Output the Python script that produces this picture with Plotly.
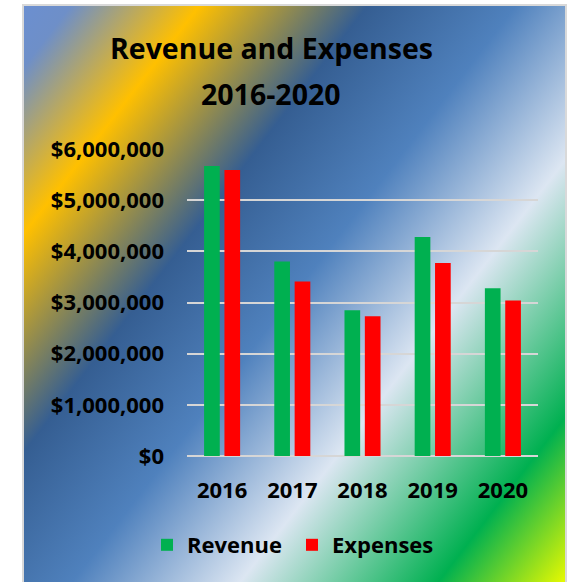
import base64
import plotly.graph_objects as go

# Chart data
years = ["2016", "2017", "2018", "2019", "2020"]
revenue = [5670000, 3800000, 2850000, 4280000, 3280000]
expenses = [5590000, 3410000, 2730000, 3770000, 3040000]
y_ticks = [0, 1000000, 2000000, 3000000, 4000000, 5000000, 6000000]

W, H = 570, 582
L, R, T, B = 187, 32, 149, 126
PW, PH = W - L - R, H - T - B

FONT = "Open Sans"

# Diagonal multi-colour fill behind the whole chart, with a light grey frame
stops = [
    (0.00, "#6B8FD1"),
    (0.05, "#6E8FC8"),
    (0.18, "#FFC000"),
    (0.35, "#355E92"),
    (0.50, "#4F81BD"),
    (0.67, "#DCE6F2"),
    (0.87, "#00B050"),
    (1.00, "#EAFA00"),
]
stop_xml = "".join(
    f'<stop offset="{o}" stop-color="{c}"/>' for o, c in stops
)
svg = (
    f'<svg xmlns="http://www.w3.org/2000/svg" width="{W}" height="{H}" '
    f'viewBox="0 0 {W} {H}" preserveAspectRatio="none">'
    f'<defs><linearGradient id="g" gradientUnits="userSpaceOnUse" '
    f'x1="22" y1="5" x2="643" y2="483">{stop_xml}</linearGradient></defs>'
    f'<rect x="22" y="4" width="545" height="590" fill="#D9D9D9"/>'
    f'<rect x="24" y="6" width="541" height="590" fill="url(#g)"/>'
    f'</svg>'
)
bg_src = "data:image/svg+xml;base64," + base64.b64encode(svg.encode()).decode()


def px_x(x):
    return (x - L) / PW


def px_y(y):
    return 1 - (y - T) / PH


fig = go.Figure()
fig.add_trace(go.Bar(x=years, y=revenue, name="Revenue",
                     marker=dict(color="#00B050", line=dict(width=0))))
fig.add_trace(go.Bar(x=years, y=expenses, name="Expenses",
                     marker=dict(color="#FF0000", line=dict(width=0))))

label_font = dict(family=FONT, size=22, color="black", weight="bold")
title_font = dict(family=FONT, size=28.5, color="black", weight="bold")

fig.update_layout(
    width=W, height=H, autosize=False,
    margin=dict(l=L, r=R, t=T, b=B, pad=0),
    paper_bgcolor="white",
    plot_bgcolor="rgba(0,0,0,0)",
    barmode="group",
    bargap=0.42,
    bargroupgap=0.23,
    font=dict(family=FONT, color="black"),
    images=[dict(
        source=bg_src, xref="paper", yref="paper",
        x=px_x(0), y=px_y(0), sizex=W / PW, sizey=H / PH,
        xanchor="left", yanchor="top", sizing="stretch", layer="below",
    )],
    xaxis=dict(
        showgrid=False, showline=False, ticks="", zeroline=False,
        tickfont=label_font,
        ticklabelstandoff=19,
    ),
    yaxis=dict(
        range=[0, 6000000], tickvals=y_ticks, tickformat="$,.0f",
        showgrid=True, gridcolor="#D6D6D6", gridwidth=2,
        zeroline=True, zerolinecolor="#D6D6D6", zerolinewidth=2,
        showline=False, ticks="",
        tickfont=label_font,
        ticklabelstandoff=22,
    ),
    showlegend=True,
    legend=dict(
        orientation="h", x=px_x(147), xanchor="left",
        y=px_y(545), yanchor="middle",
        bgcolor="rgba(0,0,0,0)",
        font=label_font,
        entrywidth=100, entrywidthmode="pixels",
        traceorder="normal",
    ),
    annotations=[
        dict(text="Revenue and Expenses", xref="paper", yref="paper",
             x=px_x(271), y=px_y(48), xanchor="center", yanchor="middle",
             showarrow=False, font=title_font),
        dict(text="2016-2020", xref="paper", yref="paper",
             x=px_x(271), y=px_y(94), xanchor="center", yanchor="middle",
             showarrow=False, font=title_font),
    ],
)

fig.write_html("out.html")
